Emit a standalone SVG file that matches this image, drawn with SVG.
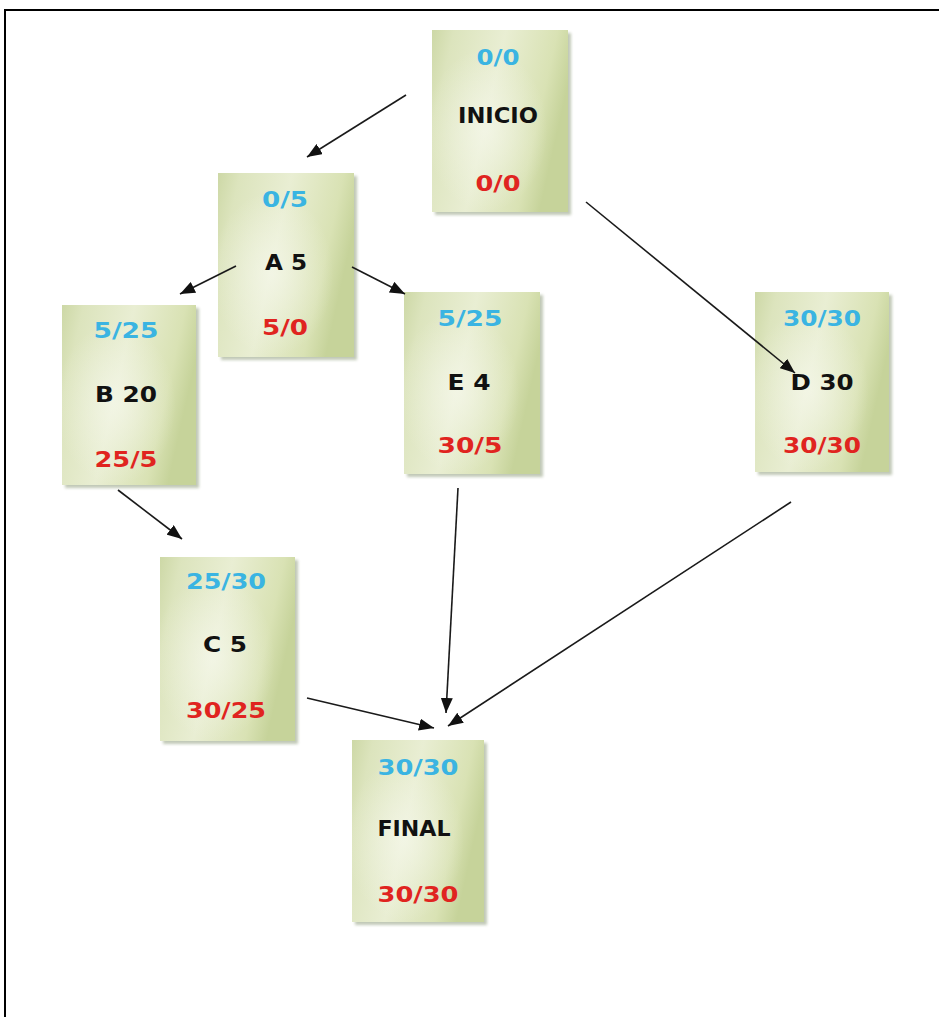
<svg xmlns="http://www.w3.org/2000/svg" width="939" height="1017" viewBox="0 0 939 1017">
<style>
.box{fill:url(#g);}
.hl{fill:url(#h);}
.sh{fill:#8f9c7c;opacity:0.55;filter:url(#b);}
.t{font-family:"DejaVu Sans",Verdana,sans-serif;font-weight:bold;font-size:21px;text-anchor:middle;}
.es{fill:#3ab4e2;}
.nm{fill:#111;}
.ls{fill:#e0241f;}
.c{stroke:#1a1a1a;stroke-width:1.6;fill:none;marker-end:url(#a);}
</style>
<defs>
<linearGradient id="g" x1="0" y1="0" x2="1" y2="0.3">
<stop offset="0" stop-color="#cdd8a6"/>
<stop offset="0.15" stop-color="#dce4bd"/>
<stop offset="0.5" stop-color="#e9eed3"/>
<stop offset="0.85" stop-color="#d9e2b4"/>
<stop offset="1" stop-color="#c6d39a"/>
</linearGradient>
<radialGradient id="h" cx="0.4" cy="0.55" r="0.45">
<stop offset="0" stop-color="#f6f8ec" stop-opacity="0.7"/>
<stop offset="1" stop-color="#f6f8ec" stop-opacity="0"/>
</radialGradient>
<filter id="b" x="-10%" y="-10%" width="120%" height="120%"><feGaussianBlur stdDeviation="1.5"/></filter>
<marker id="a" markerUnits="userSpaceOnUse" markerWidth="16" markerHeight="12" refX="15" refY="6" orient="auto">
<path d="M0,0 L15,6 L0,12 z" fill="#111"/>
</marker>
</defs>
<rect width="939" height="1017" fill="#fff"/>
<rect x="5" y="10" width="950" height="1030" fill="none" stroke="#000" stroke-width="2"/>

<g id="inicio">
<rect class="sh" x="435" y="33" width="136" height="182"/>
<rect class="box" x="432" y="30" width="136" height="182"/>
<rect class="hl" x="432" y="30" width="136" height="182"/>
<text class="t es" x="498" y="65" textLength="43" lengthAdjust="spacingAndGlyphs">0/0</text>
<text class="t nm" x="498" y="123" textLength="80" lengthAdjust="spacingAndGlyphs">INICIO</text>
<text class="t ls" x="498" y="191" textLength="45" lengthAdjust="spacingAndGlyphs">0/0</text>
</g>

<g id="a5">
<rect class="sh" x="221" y="176" width="136" height="184"/>
<rect class="box" x="218" y="173" width="136" height="184"/>
<rect class="hl" x="218" y="173" width="136" height="184"/>
<text class="t es" x="285" y="207" textLength="46" lengthAdjust="spacingAndGlyphs">0/5</text>
<text class="t nm" x="286" y="270" textLength="42" lengthAdjust="spacingAndGlyphs">A 5</text>
<text class="t ls" x="285" y="335" textLength="46" lengthAdjust="spacingAndGlyphs">5/0</text>
</g>

<g id="b20">
<rect class="sh" x="65" y="308" width="134" height="180"/>
<rect class="box" x="62" y="305" width="134" height="180"/>
<rect class="hl" x="62" y="305" width="134" height="180"/>
<text class="t es" x="126" y="338" textLength="65" lengthAdjust="spacingAndGlyphs">5/25</text>
<text class="t nm" x="126" y="402" textLength="62" lengthAdjust="spacingAndGlyphs">B 20</text>
<text class="t ls" x="126" y="467" textLength="63" lengthAdjust="spacingAndGlyphs">25/5</text>
</g>

<g id="e4">
<rect class="sh" x="407" y="295" width="136" height="182"/>
<rect class="box" x="404" y="292" width="136" height="182"/>
<rect class="hl" x="404" y="292" width="136" height="182"/>
<text class="t es" x="470" y="326" textLength="65" lengthAdjust="spacingAndGlyphs">5/25</text>
<text class="t nm" x="469" y="390" textLength="43" lengthAdjust="spacingAndGlyphs">E 4</text>
<text class="t ls" x="470" y="453" textLength="65" lengthAdjust="spacingAndGlyphs">30/5</text>
</g>

<g id="d30">
<rect class="sh" x="758" y="295" width="134" height="180"/>
<rect class="box" x="755" y="292" width="134" height="180"/>
<rect class="hl" x="755" y="292" width="134" height="180"/>
<text class="t es" x="822" y="326" textLength="78" lengthAdjust="spacingAndGlyphs">30/30</text>
<text class="t nm" x="822" y="390" textLength="63" lengthAdjust="spacingAndGlyphs">D 30</text>
<text class="t ls" x="822" y="453" textLength="78" lengthAdjust="spacingAndGlyphs">30/30</text>
</g>

<g id="c5">
<rect class="sh" x="163" y="560" width="135" height="184"/>
<rect class="box" x="160" y="557" width="135" height="184"/>
<rect class="hl" x="160" y="557" width="135" height="184"/>
<text class="t es" x="226" y="589" textLength="80" lengthAdjust="spacingAndGlyphs">25/30</text>
<text class="t nm" x="225" y="652" textLength="44" lengthAdjust="spacingAndGlyphs">C 5</text>
<text class="t ls" x="226" y="718" textLength="80" lengthAdjust="spacingAndGlyphs">30/25</text>
</g>

<g id="final">
<rect class="sh" x="355" y="743" width="132" height="182"/>
<rect class="box" x="352" y="740" width="132" height="182"/>
<rect class="hl" x="352" y="740" width="132" height="182"/>
<text class="t es" x="418" y="775" textLength="81" lengthAdjust="spacingAndGlyphs">30/30</text>
<text class="t nm" x="414" y="836" textLength="73" lengthAdjust="spacingAndGlyphs">FINAL</text>
<text class="t ls" x="418" y="902" textLength="81" lengthAdjust="spacingAndGlyphs">30/30</text>
</g>

<g id="connectors">
<line class="c" x1="406" y1="95" x2="307" y2="157"/>
<line class="c" x1="236" y1="266" x2="180" y2="294"/>
<line class="c" x1="352" y1="267" x2="405" y2="294"/>
<line class="c" x1="586" y1="202" x2="795" y2="373"/>
<line class="c" x1="118" y1="490" x2="182" y2="539"/>
<line class="c" x1="458" y1="488" x2="446" y2="713"/>
<line class="c" x1="791" y1="502" x2="448" y2="726"/>
<line class="c" x1="307" y1="698" x2="434" y2="728"/>
</g>
</svg>
